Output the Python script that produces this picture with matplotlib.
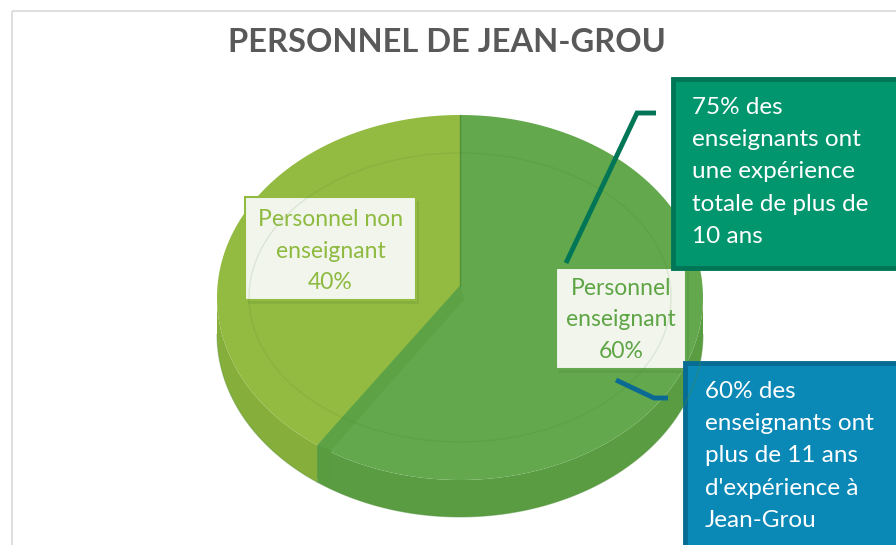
import numpy as np
import matplotlib.pyplot as plt
from matplotlib.patches import Polygon, Rectangle

# data
categories = ["Personnel enseignant", "Personnel non enseignant"]
shares = [60, 40]
slice_labels = ["Personnel\nenseignant\n60%", "Personnel non\nenseignant\n40%"]
top_colors = ["#63A84C", "#93BB42"]
side_colors = ["#5A9C42", "#86AE3A"]
text_colors = ["#5EA545", "#8DBA3F"]
title = "PERSONNEL DE JEAN-GROU"
note_teal = "75% des\nenseignants ont\nune expérience\ntotale de plus de\n10 ans"
note_blue = "60% des\nenseignants ont\nplus de 11 ans\nd'expérience à\nJean-Grou"

plt.rcParams['font.family'] = ['Lato', 'DejaVu Sans']

fig = plt.figure(figsize=(8.96, 5.45), dpi=100)
ax = fig.add_axes([0, 0, 1, 1])
ax.set_xlim(0, 896)
ax.set_ylim(545, 0)
ax.axis('off')

# chart frame
ax.add_patch(Rectangle((12, 11), 900, 560, fill=False, ec="#D9D9D9", lw=1.2))

ax.text(447, 43, title, ha='center', va='center', fontsize=23.5, fontweight='bold',
        color="#595959")

# pie geometry (image pixels)
cx, cy, rx, ry, depth = 460, 297.5, 243, 182.5, 37


def rim(t, dy=0.0, s=1.0):
    return cx + s * rx * np.sin(t), cy - s * ry * np.cos(t) + dy


fracs = np.array(shares) / sum(shares)
bounds = np.concatenate([[0], np.cumsum(fracs)]) * 2 * np.pi

# side walls (front half only)
for i in range(len(shares)):
    a, b = max(bounds[i], np.pi / 2), min(bounds[i + 1], 3 * np.pi / 2)
    if a >= b:
        continue
    t = np.linspace(a, b, 100)
    x, y = rim(t)
    xb, yb = rim(t[::-1], depth)
    ax.add_patch(Polygon(np.column_stack([np.r_[x, xb], np.r_[y, yb]]),
                         closed=True, fc=side_colors[i], ec='none'))
    ax.plot(xb, yb, color="#4E8C38", lw=0.8, alpha=0.4)

# top faces
for i in range(len(shares)):
    t = np.linspace(bounds[i], bounds[i + 1], 200)
    x, y = rim(t)
    ax.add_patch(Polygon(np.column_stack([np.r_[cx, x], np.r_[cy, y]]),
                         closed=True, fc=top_colors[i], ec='none'))

# bevel ring on top
t = np.linspace(0, 2 * np.pi, 400)
xr, yr = cx + (rx - 32) * np.sin(t), cy - (ry - 38) * np.cos(t)
ax.plot(xr, yr, color="#3F7A2C", lw=1, alpha=0.12)

# darker strip on the divider, plus the radial edge at the top
tb = bounds[1]
rx0, ry0 = rim(tb)
ax.add_patch(Polygon([(cx, cy - 12), (rx0, ry0), (rx0 + 14, ry0 + 5), (cx + 4, cy + 2)],
                     closed=True, fc="#5DA244", ec='none'))
ax.add_patch(Polygon([(rx0, ry0), (rx0 + 14, ry0 + 5), (rx0 + 14, ry0 + depth + 2),
                      (rx0, ry0 + depth - 4)], closed=True, fc="#599C40", ec='none'))
ax.plot([cx, cx], [cy - ry, cy - 12], color="#4C8A34", lw=1.0, alpha=0.8)

# data labels
label_boxes = [(556, 268, 130, 101), (245, 197, 171, 103)]
label_centers = [320, 251]
for i, (bx, by, bw, bh) in enumerate(label_boxes):
    ax.add_patch(Rectangle((bx + 3, by + 4), bw, bh, fc="#3E6E2A", ec='none', alpha=0.15))
    ax.add_patch(Rectangle((bx, by), bw, bh, fc="#F1F5EC", ec=top_colors[i], lw=1.5))
    ax.text(bx + bw / 2, label_centers[i], slice_labels[i], ha='center', va='center',
            fontsize=16.5, color=text_colors[i], linespacing=1.6)

# callout boxes
ax.add_patch(Rectangle((673, 79), 240, 189, fc="#02966F", ec="#017657", lw=3.5))
ax.text(692, 172, note_teal, ha='left', va='center', fontsize=17.5, color='white',
        linespacing=1.66)
ax.plot([566, 637, 656], [263, 113, 113], color="#017657", lw=3.5,
        solid_capstyle='butt', solid_joinstyle='miter')

ax.add_patch(Rectangle((685, 363), 240, 200, fc="#0A88B6", ec="#066C93", lw=3.5))
ax.text(705, 456, note_blue, ha='left', va='center', fontsize=17.5, color='white',
        linespacing=1.66)
ax.plot([616, 654, 668], [380, 398, 398], color="#0B6A94", lw=3.5,
        solid_capstyle='butt', solid_joinstyle='miter')

fig.savefig("out.png", dpi=100)
